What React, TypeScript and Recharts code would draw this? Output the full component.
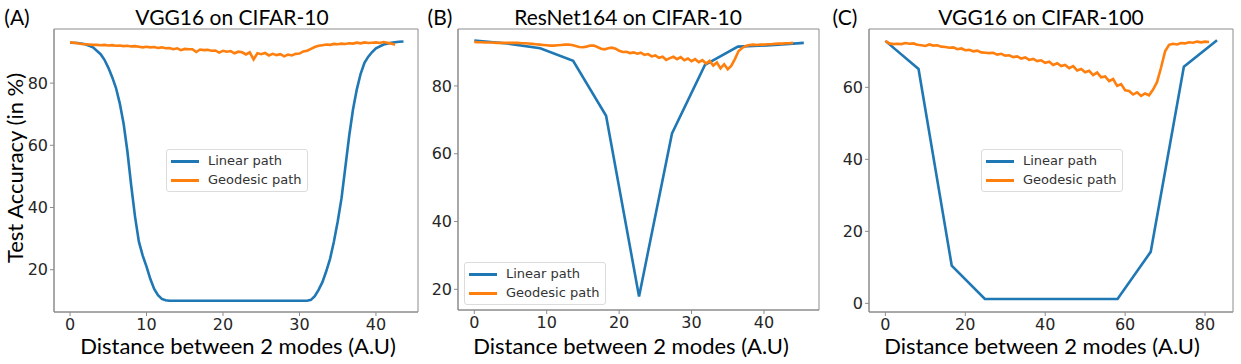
import { Line, LineChart, ReferenceArea, XAxis, YAxis } from "recharts";

// ---- (A) VGG16 on CIFAR-10 ----
const vggC10LinearX = [0, 1, 2, 3, 4, 4.5, 5, 5.5, 6, 6.5, 7, 7.5, 8, 8.5, 9, 9.5, 10, 10.5, 11, 11.5, 12, 12.5, 13, 31, 31.5, 32, 32.5, 33, 33.5, 34, 34.5, 35, 35.5, 36, 36.5, 37, 37.5, 38, 38.5, 39, 39.5, 40, 41, 42, 43, 43.6];
const vggC10LinearY = [93.0, 92.9, 92.5, 91.5, 89.3, 87.5, 85, 82, 78.5, 73.5, 67, 58, 47, 37, 29, 24.5, 21, 17, 13.8, 11.8, 10.6, 10.2, 10.0, 10.0, 10.3, 11.5, 13.5, 16, 19.5, 23.5, 29, 35.5, 43, 53, 63, 71.5, 78, 83, 86.5, 88.5, 90, 91.2, 92.4, 93.0, 93.3, 93.4];
// geodesic sampled every 0.5 from 0 to 42.5
const vggC10GeoY = [
  93.1, 93.0, 92.8, 92.6, 92.5, 92.4, 92.3, 92.3, 92.2, 92.3, 92.1, 92.2, 92.0, 92.1, 91.9, 92.0, 91.8, 91.9, 91.7, 91.5,
  91.7, 91.5, 91.6, 91.3, 91.5, 91.2, 91.3, 90.9, 91.2, 90.6, 91.0, 90.9, 90.9, 90.0, 90.8, 90.6, 90.7, 90.4, 90.5, 89.8,
  90.4, 90.1, 90.3, 89.6, 90.1, 89.9, 89.2, 89.9, 87.6, 89.6, 89.3, 89.7, 88.9, 89.4, 89.0, 89.3, 88.6, 89.2, 88.9, 89.4,
  89.5, 90.2, 90.4, 91.0, 91.6, 92.0, 92.2, 92.4, 92.3, 92.6, 92.5, 92.7, 92.6, 92.8, 92.7, 93.0, 92.8, 93.1, 92.9, 93.0,
  93.1, 92.9, 93.2, 93.0, 92.7, 92.3,
];

// ---- (B) ResNet164 on CIFAR-10 ----
const resC10LinearX = [0, 4.55, 9.1, 13.65, 18.2, 22.75, 27.3, 31.85, 36.4, 40.95, 45.5];
const resC10LinearY = [93.4, 92.5, 91.1, 87.4, 71.2, 17.9, 66.0, 86.2, 91.6, 92.0, 92.7];
// geodesic sampled every 0.5 from 0 to 44
const resC10GeoY = [
  93.0, 92.9, 92.9, 92.8, 92.8, 92.8, 92.7, 92.7, 92.7, 92.7, 92.7, 92.7, 92.7, 92.6, 92.6, 92.5, 92.4, 92.3, 92.2, 92.1,
  92.0, 91.9, 91.9, 92.0, 92.1, 92.2, 92.2, 92.1, 91.8, 91.5, 91.4, 91.6, 91.9, 91.9, 91.5, 91.0, 90.8, 91.1, 91.3, 91.0,
  90.4, 90.0, 90.1, 89.7, 89.9, 89.5, 89.8, 89.2, 89.4, 88.7, 89.0, 88.3, 88.6, 87.7, 88.2, 88.6, 87.9, 88.5, 87.6, 88.1,
  87.3, 87.9, 87.0, 87.6, 86.6, 87.4, 86.0, 86.9, 85.2, 86.4, 84.9, 86.0, 88.0, 90.3, 91.2, 91.8, 92.1, 92.2, 92.1, 92.2,
  92.2, 92.3, 92.3, 92.4, 92.5, 92.5, 92.6, 92.6, 92.7,
];

// ---- (C) VGG16 on CIFAR-100 ----
const vggC100LinearX = [0, 8.3, 16.6, 24.9, 33.2, 41.5, 49.8, 58.1, 66.4, 74.7, 83];
const vggC100LinearY = [72.9, 65.1, 10.5, 1.2, 1.2, 1.2, 1.2, 1.2, 14.3, 65.7, 73.1];
// geodesic sampled every 1 from 0 to 81
const vggC100GeoY = [
  72.9, 72.2, 72.0, 72.1, 72.0, 72.3, 72.1, 72.2, 71.8, 71.7, 71.5, 71.9, 71.6, 71.7, 71.3, 71.2, 71.0, 71.1, 70.6, 70.8,
  70.3, 70.4, 70.0, 70.2, 69.7, 69.6, 69.5, 69.6, 69.1, 69.3, 68.8, 68.9, 68.4, 68.6, 68.0, 68.3, 67.6, 67.9, 67.3, 67.5,
  66.8, 67.1, 66.2, 66.7, 65.9, 66.2, 65.3, 65.9, 64.7, 65.1, 64.2, 64.6, 63.4, 64.1, 62.8, 63.0, 61.7, 62.3, 60.4, 60.9,
  59.2, 59.0, 58.0, 58.6, 57.6, 58.3, 57.8, 59.4, 61.5, 65.5, 70.0, 71.8, 72.1, 71.9, 72.3, 72.2, 72.5, 72.4, 72.7, 72.5,
  72.7, 72.6,
];

const LINEAR = "#1f77b4";
const GEO = "#ff7f0e";
const FRAME = "#8c8c8c";
const TITLE_FONT = "Lato, 'Open Sans', sans-serif";
const TICK_FONT = "'DejaVu Sans', sans-serif";

const zip = (xs: number[], ys: number[]) => xs.map((x, i) => ({ x, y: ys[i] }));
const stepped = (ys: number[], step: number) => ys.map((y, i) => ({ x: i * step, y }));

type PanelProps = {
  left: number;
  width: number;
  plotBottom: number;
  rightMargin: number;
  xDomain: [number, number];
  yDomain: [number, number];
  xTicks: number[];
  yTicks: number[];
  linear: { x: number; y: number }[];
  geodesic: { x: number; y: number }[];
};

function Panel(p: PanelProps) {
  const tick = { fontSize: 16, fill: "#262626", fontFamily: TICK_FONT };
  return (
    <div style={{ position: "absolute", left: p.left, top: 0 }}>
      <LineChart width={p.width} height={364} margin={{ top: 29, right: p.rightMargin, bottom: 0, left: 0 }}>
        <XAxis
          dataKey="x"
          type="number"
          domain={p.xDomain}
          ticks={p.xTicks}
          allowDataOverflow
          height={364 - p.plotBottom}
          tick={tick}
          tickSize={4}
          tickMargin={3}
          stroke={FRAME}
        />
        <YAxis
          type="number"
          domain={p.yDomain}
          ticks={p.yTicks}
          allowDataOverflow
          width={54}
          tick={tick}
          tickSize={4}
          tickMargin={2}
          stroke={FRAME}
        />
        <ReferenceArea
          x1={p.xDomain[0]}
          x2={p.xDomain[1]}
          y1={p.yDomain[0]}
          y2={p.yDomain[1]}
          fill="none"
          fillOpacity={0}
          stroke={FRAME}
          strokeWidth={1}
        />
        <Line data={p.linear} dataKey="y" stroke={LINEAR} strokeWidth={2.6} dot={false} isAnimationActive={false} />
        <Line data={p.geodesic} dataKey="y" stroke={GEO} strokeWidth={2.6} dot={false} isAnimationActive={false} />
      </LineChart>
    </div>
  );
}

function LegendBox({ left, top }: { left: number; top: number }) {
  const row = (color: string, label: string, y: number) => (
    <div style={{ position: "absolute", left: 4, top: y, display: "flex", alignItems: "center" }}>
      <div style={{ width: 28, height: 3, background: color }} />
      <span style={{ marginLeft: 9, fontFamily: TICK_FONT, fontSize: 13, color: "#333", lineHeight: "16px" }}>{label}</span>
    </div>
  );
  return (
    <div
      style={{
        position: "absolute",
        left,
        top,
        width: 140,
        height: 41,
        border: "1px solid #dcdcdc",
        borderRadius: 3,
        background: "rgba(255,255,255,0.85)",
      }}
    >
      {row(LINEAR, "Linear path", 3)}
      {row(GEO, "Geodesic path", 22)}
    </div>
  );
}

function Label({ x, y, text, size = 21, rotate = false }: { x: number; y: number; text: string; size?: number; rotate?: boolean }) {
  return (
    <div
      style={{
        position: "absolute",
        left: x,
        top: y,
        transform: `translate(-50%, -50%)${rotate ? " rotate(-90deg)" : ""}`,
        fontFamily: TITLE_FONT,
        fontSize: size,
        color: "#000",
        whiteSpace: "nowrap",
        lineHeight: 1,
      }}
    >
      {text}
    </div>
  );
}

export default function App() {
  return (
    <div style={{ position: "absolute", left: 0, top: 0, width: 1241, height: 364, background: "#fff", overflow: "hidden" }}>
      <Panel
        left={0}
        width={420}
        plotBottom={312}
        rightMargin={2}
        xDomain={[-2.1, 45.5]}
        yDomain={[6.4, 97.4]}
        xTicks={[0, 10, 20, 30, 40]}
        yTicks={[20, 40, 60, 80]}
        linear={zip(vggC10LinearX, vggC10LinearY)}
        geodesic={stepped(vggC10GeoY, 0.5)}
      />
      <Panel
        left={404}
        width={416}
        plotBottom={310}
        rightMargin={1}
        xDomain={[-2.25, 47.6]}
        yDomain={[13.9, 96.8]}
        xTicks={[0, 10, 20, 30, 40]}
        yTicks={[20, 40, 60, 80]}
        linear={zip(resC10LinearX, resC10LinearY)}
        geodesic={stepped(resC10GeoY, 0.5)}
      />
      <Panel
        left={815}
        width={426}
        plotBottom={312}
        rightMargin={8}
        xDomain={[-4.1, 87]}
        yDomain={[-2.4, 76.2]}
        xTicks={[0, 20, 40, 60, 80]}
        yTicks={[0, 20, 40, 60]}
        linear={zip(vggC100LinearX, vggC100LinearY)}
        geodesic={stepped(vggC100GeoY, 1)}
      />

      <LegendBox left={166} top={149} />
      <LegendBox left={464} top={262} />
      <LegendBox left={981} top={149} />

      <Label x={17} y={16} text="(A)" />
      <Label x={232} y={16} text="VGG16 on CIFAR-10" />
      <Label x={440} y={16} text="(B)" />
      <Label x={628} y={16} text="ResNet164 on CIFAR-10" />
      <Label x={845} y={16} text="(C)" />
      <Label x={1041} y={16} text="VGG16 on CIFAR-100" />

      <Label x={15} y={168} text="Test Accuracy (in %)" size={22} rotate />
      <Label x={238} y={346} text="Distance between 2 modes (A.U)" size={22} />
      <Label x={631} y={346} text="Distance between 2 modes (A.U)" size={22} />
      <Label x={1042} y={346} text="Distance between 2 modes (A.U)" size={22} />
    </div>
  );
}
